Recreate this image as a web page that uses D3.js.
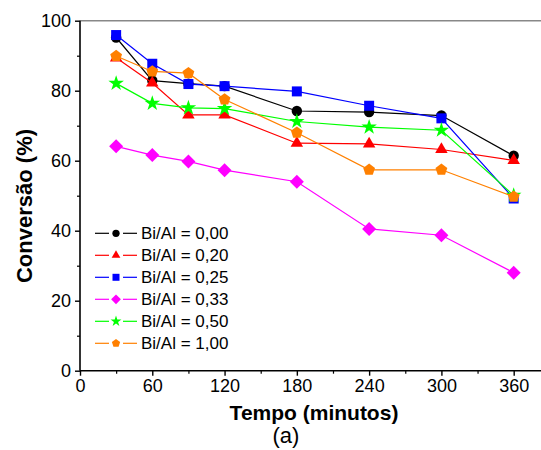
<!DOCTYPE html>
<html><head><meta charset="utf-8">
<script src="https://cdn.jsdelivr.net/npm/d3@7"></script>
<style>body{margin:0;background:#fff}svg{display:block}</style>
</head><body>
<svg id="c" width="541" height="450"></svg>
<script>
const times = [30, 60, 90, 120, 180, 240, 300, 360];
const seriesNames = ["Bi/Al = 0,00", "Bi/Al = 0,20", "Bi/Al = 0,25", "Bi/Al = 0,33", "Bi/Al = 0,50", "Bi/Al = 1,00"];
const s000 = [95.2, 82.9, 82.0, 81.3, 74.2, 73.9, 72.9, 61.4];
const s020 = [89.4, 82.2, 73.1, 73.1, 65.0, 64.8, 63.2, 60.1];
const s025 = [95.9, 87.7, 81.9, 81.3, 79.8, 75.7, 72.1, 49.2];
const s033 = [64.1, 61.6, 59.8, 57.3, 54.0, 40.5, 38.7, 28.0];
const s050 = [82.1, 76.4, 75.1, 74.9, 71.2, 69.6, 68.7, 50.1];
const s100 = [89.9, 85.5, 85.0, 77.5, 68.0, 57.4, 57.4, 49.7];
const xTicks = [0, 60, 120, 180, 240, 300, 360];
const yTicks = [0, 20, 40, 60, 80, 100];
const xTitle = "Tempo (minutos)";
const yTitle = "Conversão (%)";
const caption = "(a)";

const colors = ["#000000", "#ff0000", "#0000ff", "#ff00ff", "#00ff00", "#ff8000"];
const values = [s000, s020, s025, s033, s050, s100];

const svg = d3.select("#c");
const x = d3.scaleLinear().domain([0, 390]).range([80, 80 + 390 * 1.2047]);
const y = d3.scaleLinear().domain([0, 100]).range([370.7, 20.7]);

function poly(n, r, rot) {
  const pts = d3.range(n).map(i => {
    const a = rot + i * 2 * Math.PI / n;
    return [r * Math.cos(a), r * Math.sin(a)];
  });
  return "M" + pts.map(p => p.map(v => v.toFixed(2)).join(",")).join("L") + "Z";
}
function symPath(i, s) {
  switch (i) {
    case 0: return d3.symbol().type(d3.symbolCircle).size(85 * s * s)();
    case 1: return poly(3, 7.2 * s, -Math.PI / 2);
    case 2: return d3.symbol().type(d3.symbolSquare).size(100 * s * s)();
    case 3: return poly(4, 7 * s, -Math.PI / 2);
    case 4: return d3.symbol().type(d3.symbolStar).size(75 * s * s)();
    default: return poly(5, 6.2 * s, -Math.PI / 2);
  }
}

// top frame line
svg.append("line").attr("x1", 80).attr("x2", 541).attr("y1", 20.7).attr("y2", 20.7)
  .attr("stroke", "#888").attr("stroke-width", 1.6);

// axes
const fontTick = "18px 'Liberation Sans', Arial, sans-serif";
const xAxis = svg.append("g").attr("transform", "translate(0,370.7)")
  .call(d3.axisBottom(x).tickValues(xTicks).tickSize(5).tickPadding(4).tickFormat(d3.format("d")));
xAxis.select(".domain").attr("stroke-width", 1.6).attr("d", "M80,0H541");
xAxis.selectAll("text").style("font", fontTick).attr("fill", "#000");
xAxis.selectAll("line").attr("stroke-width", 1.4);
const xMinor = svg.append("g").attr("transform", "translate(0,370.7)")
  .call(d3.axisBottom(x).tickValues([30, 90, 150, 210, 270, 330]).tickSize(3).tickFormat(""));
xMinor.select(".domain").remove();
xMinor.selectAll("line").attr("stroke-width", 1.2);

const yAxis = svg.append("g").attr("transform", "translate(80,0)")
  .call(d3.axisLeft(y).tickValues(yTicks).tickSize(5).tickPadding(4));
yAxis.select(".domain").attr("stroke-width", 1.6).attr("d", "M0,370.7V20.7");
yAxis.selectAll("text").style("font", fontTick).attr("fill", "#000");
yAxis.selectAll("line").attr("stroke-width", 1.4);
const yMinor = svg.append("g").attr("transform", "translate(80,0)")
  .call(d3.axisLeft(y).tickValues([10, 30, 50, 70, 90]).tickSize(3).tickFormat(""));
yMinor.select(".domain").remove();
yMinor.selectAll("line").attr("stroke-width", 1.2);

// titles
svg.append("text").attr("x", 314).attr("y", 420).attr("text-anchor", "middle")
  .style("font", "bold 21px 'Liberation Sans', Arial, sans-serif").text(xTitle);
svg.append("text").attr("transform", "translate(32,206) rotate(-90)").attr("text-anchor", "middle")
  .style("font", "bold 22px 'Liberation Sans', Arial, sans-serif").text(yTitle);
svg.append("text").attr("x", 286).attr("y", 443).attr("text-anchor", "middle")
  .style("font", "22px 'Liberation Sans', Arial, sans-serif").text(caption);
svg.append("text").attr("x", 70).attr("y", 463).attr("text-anchor", "end")
  .style("font", "18px 'Liberation Sans', Arial, sans-serif").attr("fill", "#000").text("100");

// series
const line = d3.line().x((d, i) => x(times[i])).y(d => y(d));
values.forEach((vals, si) => {
  const g = svg.append("g");
  g.append("path").attr("d", line(vals)).attr("fill", "none")
    .attr("stroke", colors[si]).attr("stroke-width", 1.2);
  g.selectAll("path.m").data(vals).enter().append("path").attr("class", "m")
    .attr("transform", (d, i) => `translate(${x(times[i])},${y(d)})`)
    .attr("d", symPath(si, 1)).attr("fill", colors[si]);
});

// legend
const lg = svg.append("g");
seriesNames.forEach((name, i) => {
  const yy = 233.3 + i * 22;
  lg.append("line").attr("x1", 95).attr("x2", 109).attr("y1", yy).attr("y2", yy)
    .attr("stroke", colors[i]).attr("stroke-width", 1.2);
  lg.append("line").attr("x1", 123).attr("x2", 137).attr("y1", yy).attr("y2", yy)
    .attr("stroke", colors[i]).attr("stroke-width", 1.2);
  lg.append("path").attr("transform", `translate(116,${yy})`).attr("d", symPath(i, 0.7)).attr("fill", colors[i]);
  lg.append("text").attr("x", 141).attr("y", yy + 6).style("font", "17px 'Liberation Sans', Arial, sans-serif")
    .text(name);
});
</script>
</body></html>
